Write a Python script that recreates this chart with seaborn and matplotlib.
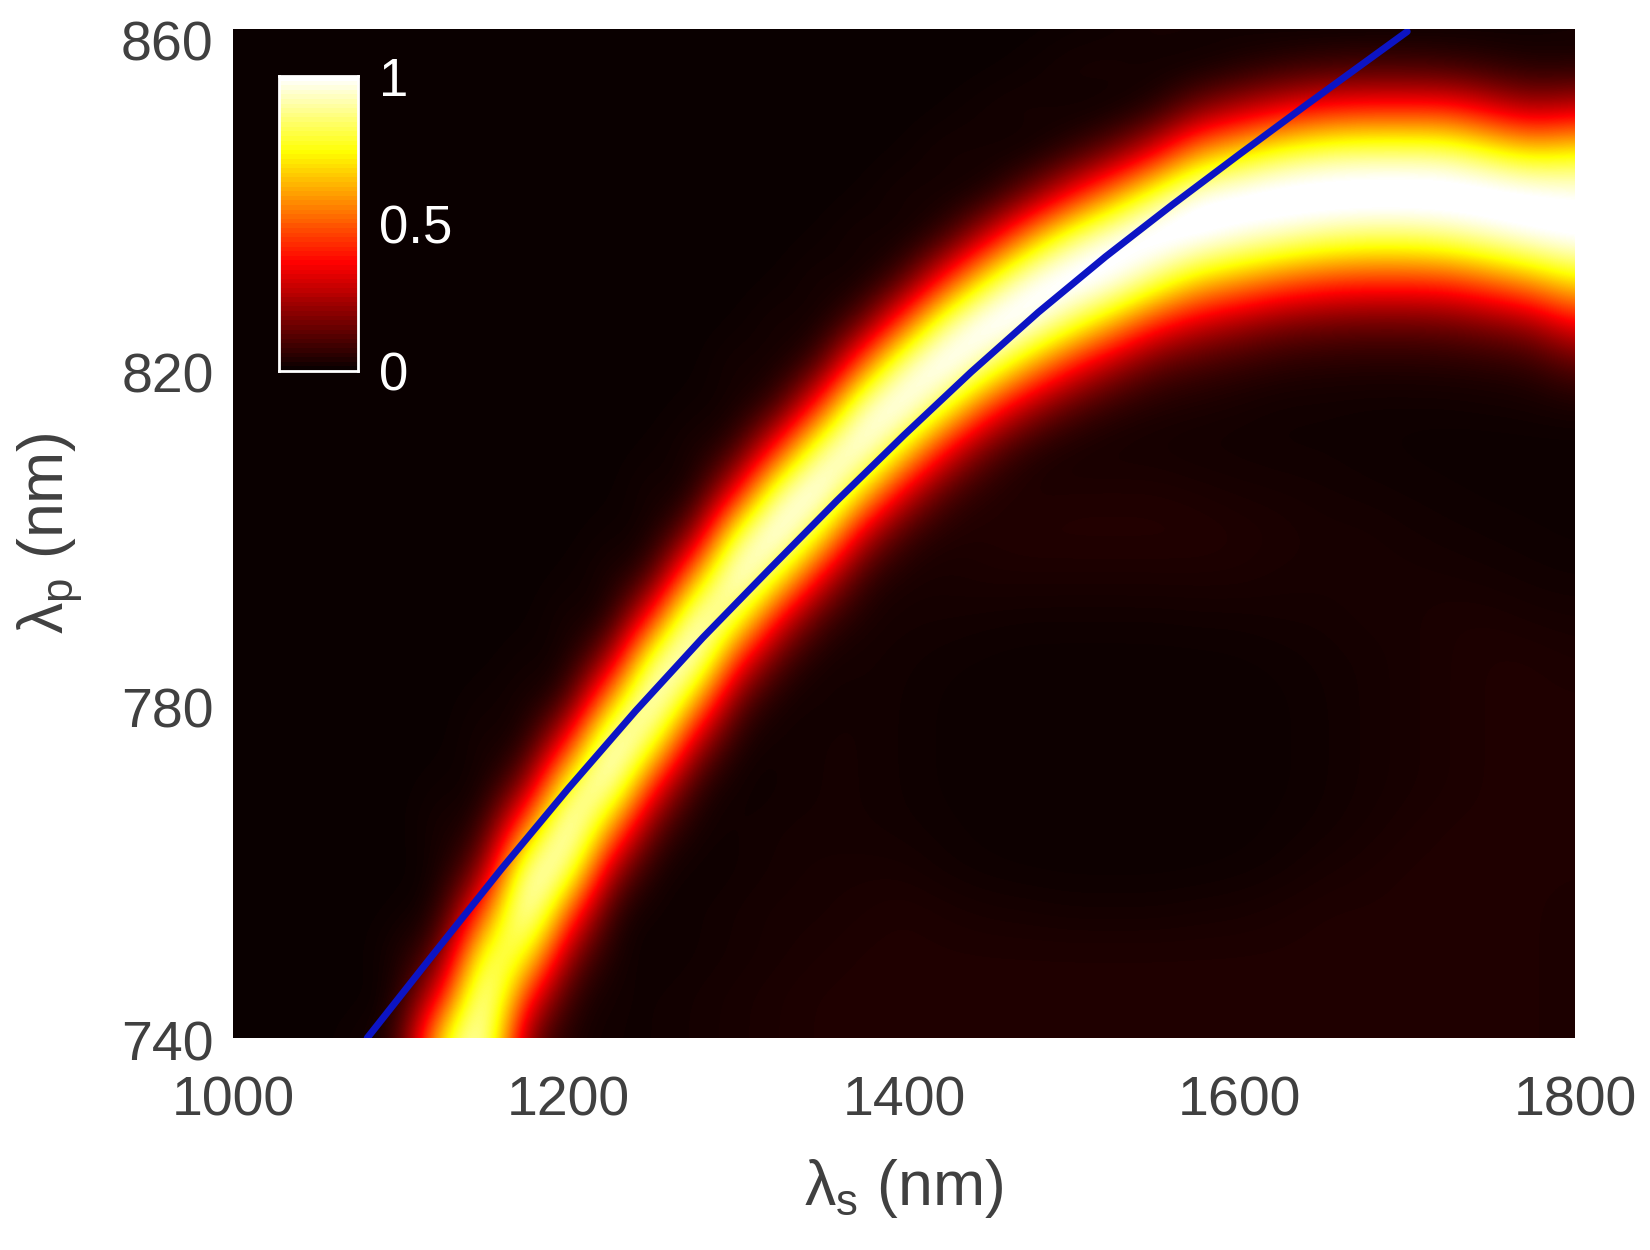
import numpy as np
import pandas as pd
import matplotlib
matplotlib.use("Agg")
import matplotlib.pyplot as plt
from matplotlib.transforms import ScaledTranslation
import seaborn as sns

# wavelength grid the values were read on
lambda_s = [1000, 1025, 1050, 1075, 1100, 1125, 1150, 1175, 1200, 1225, 1250,
            1275, 1300, 1325, 1350, 1375, 1400, 1425, 1450, 1475, 1500, 1525,
            1550, 1575, 1600, 1625, 1650, 1675, 1700, 1725, 1750, 1775, 1800]
lambda_p = [740, 745, 750, 755, 760, 765, 770, 775, 780, 785, 790, 795, 800,
            805, 810, 815, 820, 825, 830, 835, 840, 845, 850, 855, 860]

# one list per lambda_s column, bottom row (740 nm) first
intensity_columns = [
    [0] * 25,
    [0] * 25,
    [0] * 25,
    [.01] + [0] * 24,
    [.03, .01, .02, .005] + [0] * 21,
    [.72, .33, .10, .02, .01, .02, .01] + [0] * 18,
    [.95, 1, .82, .45, .15, .03, .005, .02, .01] + [0] * 16,
    [.12, .38, .76, 1, .92, .52, .15, .01, .015, .012] + [0] * 15,
    [.02, .04, .16, .46, .86, 1, .8, .36, .05, .005, .02, .005] + [0] * 13,
    [.01, .01, .015, .03, .2, .56, .94, .98, .6, .18, .005, .02, .01] + [0] * 12,
    [.01, .01, .005, .005, .015, .1, .36, .78, 1, .84, .37, .05, .005, .02, .005] + [0] * 10,
    [.015, .015, .01, .01, .005, .01, .04, .22, .6, .96, .95, .56, .14, .002, .02, .008] + [0] * 9,
    [.02, .02, .015, .015, .01, .01, .005, .015, .1, .38, .8, 1, .78, .3, .04, .01, .02, .003] + [0] * 7,
    [.025, .025, .02, .02, .015, .015, .01, .01, .012, .08, .32, .74, 1, .85, .39, .055, .008, .02, .004] + [0] * 6,
    [.03, .03, .025, .02, .02, .015, .015, .015, .012, .012, .07, .31, .72, .99, .85, .41, .07, .005, .02, .005] + [0] * 5,
    [.03, .03, .03, .025, .02, .015, .015, .015, .015, .015, .02, .05, .25, .66, .97, .9, .48, .1, .002, .02, .005] + [0] * 4,
    [.03, .03, .03, .03, .02, .012, .01, .01, .01, .012, .015, .02, .06, .28, .68, .98, .88, .45, .08, .003, .02, .005] + [0] * 3,
    [.03, .03, .03, .025, .012, .008, .006, .006, .006, .008, .015, .02, .025, .08, .32, .74, 1, .84, .39, .055, .008, .02, .004, 0, 0],
    [.03, .03, .03, .02, .008, .005, .005, .005, .005, .006, .012, .025, .03, .03, .11, .41, .83, 1, .73, .28, .02, .012, .015, .002, 0],
    [.03, .03, .03, .018, .006, .004, .004, .004, .004, .005, .01, .025, .035, .025, .03, .2, .57, .95, .95, .58, .15, .002, .02, .008, .001],
    [.03, .03, .03, .015, .005, .004, .004, .004, .004, .005, .01, .025, .035, .03, .015, .09, .35, .77, 1, .82, .36, .05, .005, .02, .004],
    [.03, .03, .03, .015, .005, .004, .004, .004, .004, .005, .01, .025, .035, .03, .015, .04, .2, .57, .95, .95, .58, .15, .002, .02, .008],
    [.03, .03, .03, .015, .005, .004, .004, .004, .004, .005, .01, .025, .035, .03, .015, .025, .1, .37, .79, 1, .8, .33, .035, .008, .018],
    [.03, .03, .03, .018, .006, .004, .004, .004, .004, .005, .012, .025, .035, .025, .012, .02, .07, .26, .62, .96, .95, .58, .17, .005, .015],
    [.03, .03, .03, .02, .008, .005, .005, .005, .005, .006, .012, .025, .03, .02, .012, .015, .05, .2, .54, .9, .98, .68, .26, .025, .01],
    [.03, .03, .03, .025, .012, .008, .006, .006, .006, .008, .015, .02, .025, .018, .01, .01, .035, .15, .46, .85, 1, .77, .34, .05, .005],
    [.03, .03, .03, .03, .02, .012, .01, .01, .01, .012, .015, .02, .02, .015, .01, .01, .03, .13, .41, .8, 1, .82, .4, .07, .002],
    [.03, .03, .03, .03, .025, .018, .015, .015, .015, .015, .02, .02, .02, .012, .008, .008, .028, .12, .39, .77, 1, .84, .42, .08, .002],
    [.03, .03, .03, .03, .03, .025, .02, .02, .02, .02, .02, .02, .015, .01, .006, .008, .028, .12, .39, .77, 1, .84, .42, .08, .002],
    [.03, .03, .03, .03, .03, .03, .025, .025, .025, .025, .025, .018, .012, .008, .005, .008, .03, .13, .4, .8, 1, .83, .42, .07, .003],
    [.03, .03, .03, .03, .03, .03, .03, .03, .03, .03, .025, .015, .01, .006, .004, .01, .035, .16, .47, .86, 1, .75, .33, .05, .005],
    [.03, .03, .03, .03, .03, .03, .03, .03, .03, .03, .02, .012, .008, .005, .004, .012, .045, .2, .55, .92, .98, .68, .25, .03, .008],
    [.025, .025, .025, .025, .03, .03, .03, .03, .03, .025, .018, .01, .006, .004, .004, .015, .1, .33, .66, .96, .94, .72, .3, .03, .012],
]

# blue phase matching curve
curve_s = [1080, 1120, 1160, 1200, 1240, 1280, 1320, 1360, 1400, 1440, 1480,
           1520, 1560, 1600, 1640, 1680, 1700]
curve_p = [740, 750.1, 760.1, 769.7, 778.9, 787.6, 795.8, 803.9, 811.7, 819.2,
           826.3, 832.9, 839.1, 845.1, 851, 856.8, 859.7]

x_ticks = [1000, 1200, 1400, 1600, 1800]
y_ticks = [740, 780, 820, 860]
scale_levels = np.linspace(1, 0, 64)
scale_ticks = ["1", "0.5", "0"]

W, H = 1650, 1250
GREY = "#404040"

sns.set_theme(style="white")
plt.rcParams["font.family"] = ["Liberation Sans", "DejaVu Sans"]
plt.rcParams["mathtext.fontset"] = "custom"
plt.rcParams["mathtext.rm"] = "Liberation Sans"

fig = plt.figure(figsize=(W / 100, H / 100), dpi=100)
ax = fig.add_axes([233 / W, 1 - 1038 / H, (1575 - 233) / W, (1038 - 29) / H])

grid = np.array(intensity_columns).T
ds = lambda_s[1] - lambda_s[0]
dp = lambda_p[1] - lambda_p[0]
# vmax a bit under 1: smoothing eats the top of the grid peak
ax.imshow(grid, origin="lower", cmap="hot", vmin=0, vmax=0.92, aspect="auto",
          interpolation="bicubic",
          extent=(lambda_s[0] - ds / 2, lambda_s[-1] + ds / 2,
                  lambda_p[0] - dp / 2, lambda_p[-1] + dp / 2))

curve = pd.DataFrame({"s": curve_s, "p": curve_p})
sns.lineplot(data=curve, x="s", y="p", ax=ax, color="#0c14c4", linewidth=5,
             sort=False, estimator=None, zorder=3)

ax.set_xlim(1000, 1800)
ax.set_ylim(740, 860)
ax.set_xticks(x_ticks)
ax.set_yticks(y_ticks)
ax.tick_params(length=0, labelsize=40, labelcolor=GREY)
ax.tick_params(axis="x", pad=27)
ax.tick_params(axis="y", pad=14)
ax.set_xlabel("λ$_{\\mathrm{s}}$ (nm)", fontsize=45, color=GREY, labelpad=21)
ax.set_ylabel("λ$_{\\mathrm{p}}$ (nm)", fontsize=45, color=GREY, labelpad=26)
for s in ax.spines.values():
    s.set_visible(False)

# the y labels sit a little under their ticks in the reference
for label, drop in zip(ax.get_yticklabels(), [2, 4, 5, 8]):
    label.set_transform(label.get_transform() + ScaledTranslation(0, -drop / 72, fig.dpi_scale_trans))

# colour scale inside the plot
cax = fig.add_axes([279 / W, 1 - 371 / H, (358 - 279) / W, (371 - 76) / H])
sns.heatmap(pd.DataFrame({"v": scale_levels}), ax=cax, cmap="hot", vmin=0, vmax=1,
            cbar=False, xticklabels=False, yticklabels=False)
for s in cax.spines.values():
    s.set_visible(True)
    s.set_color("white")
    s.set_linewidth(2)
cax.yaxis.tick_right()
cax.set_xlabel("")
cax.set_ylabel("")
cax.set_yticks([0, 32, 64])
cax.set_yticklabels(scale_ticks, color="white", fontsize=38)
cax.tick_params(axis="y", length=0, pad=15, labelrotation=0)

fig.savefig("out.png", dpi=100)
